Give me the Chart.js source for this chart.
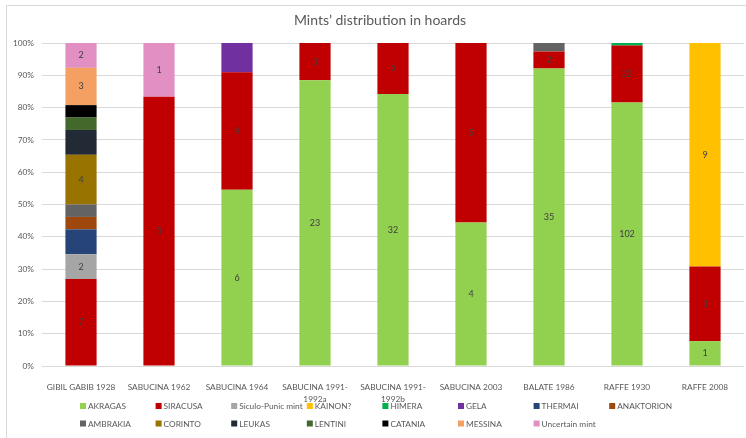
<!DOCTYPE html>
<html>
<head>
<meta charset="utf-8">
<script src="https://cdn.jsdelivr.net/npm/chart.js@4"></script>
<style>
	html, body { margin: 0; padding: 0; background: #ffffff; }
	canvas { display: block; }
</style>
</head>
<body>
<canvas id="hoards" width="746" height="438"></canvas>
<script>
// |-------------|
// |   Données   |
// |-------------|

const hoards = [
	'GIBIL GABIB 1928', 'SABUCINA 1962', 'SABUCINA 1964', ['SABUCINA 1991-', '1992a'],
	['SABUCINA 1991-', '1992b'], 'SABUCINA 2003', 'BALATE 1986', 'RAFFE 1930', 'RAFFE 2008'
]

// nombre de monnaies par atelier et par trésor
const akragas      = [0, 0, 6, 23, 32, 4, 35, 102, 1]
const siracusa     = [7, 5, 4, 3, 6, 5, 2, 22, 3]
const siculo_punic = [2, 0, 0, 0, 0, 0, 0, 0, 0]
const kainon       = [0, 0, 0, 0, 0, 0, 0, 0, 9]
const himera       = [0, 0, 0, 0, 0, 0, 0, 1, 0]
const gela         = [0, 0, 1, 0, 0, 0, 0, 0, 0]
const thermai      = [2, 0, 0, 0, 0, 0, 0, 0, 0]
const anaktorion   = [1, 0, 0, 0, 0, 0, 0, 0, 0]
const ambrakia     = [1, 0, 0, 0, 0, 0, 1, 0, 0]
const corinto      = [4, 0, 0, 0, 0, 0, 0, 0, 0]
const leukas       = [2, 0, 0, 0, 0, 0, 0, 0, 0]
const lentini      = [1, 0, 0, 0, 0, 0, 0, 0, 0]
const catania      = [1, 0, 0, 0, 0, 0, 0, 0, 0]
const messina      = [3, 0, 0, 0, 0, 0, 0, 0, 0]
const uncertain    = [2, 1, 0, 0, 0, 0, 0, 0, 0]

const percent_ticks = [0, 10, 20, 30, 40, 50, 60, 70, 80, 90, 100]

const chart_title = 'Mints\u2019 distribution in hoards'


// |------------|
// |   Styles   |
// |------------|

const font_family = 'Lato, "Open Sans", sans-serif'
const small_size = 8.3
const text_color = '#595959'
const label_color = '#404040'
const grid_color = '#d9d9d9'

const mints = [
	{ name: 'AKRAGAS', counts: akragas, color: '#92d050', labels: true },
	{ name: 'SIRACUSA', counts: siracusa, color: '#c00000', labels: true },
	{ name: 'Siculo-Punic mint', counts: siculo_punic, color: '#a5a5a5', labels: true },
	{ name: 'KAINON?', counts: kainon, color: '#ffc000', labels: true },
	{ name: 'HIMERA', counts: himera, color: '#00b050', labels: false },
	{ name: 'GELA', counts: gela, color: '#7030a0', labels: false },
	{ name: 'THERMAI', counts: thermai, color: '#264478', labels: false },
	{ name: 'ANAKTORION', counts: anaktorion, color: '#9e480e', labels: false },
	{ name: 'AMBRAKIA', counts: ambrakia, color: '#636363', labels: false },
	{ name: 'CORINTO', counts: corinto, color: '#997300', labels: true },
	{ name: 'LEUKAS', counts: leukas, color: '#222a35', labels: false },
	{ name: 'LENTINI', counts: lentini, color: '#43682b', labels: false },
	{ name: 'CATANIA', counts: catania, color: '#000000', labels: false },
	{ name: 'MESSINA', counts: messina, color: '#f4a062', labels: true },
	{ name: 'Uncertain mint', counts: uncertain, color: '#e28fc4', labels: true }
]

// total de monnaies par trésor, pour passer en pourcentage
const totals = hoards.map((h, i) => mints.reduce((sum, m) => sum + m.counts[i], 0))

const datasets = mints.map((m) => ({
	label: m.name,
	data: m.counts.map((c, i) => c / totals[i] * 100),
	counts: m.counts,
	show_labels: m.labels,
	backgroundColor: m.color,
	borderWidth: 0,
	barPercentage: 0.4,
	categoryPercentage: 1
}))


// |-------------|
// |   Plugins   |
// |-------------|

// fond blanc + cadre du graphique
const frame_plugin = {
	id: 'frame',
	beforeDraw(chart) {
		const ctx = chart.ctx
		ctx.save()
		ctx.fillStyle = '#ffffff'
		ctx.fillRect(0, 0, chart.width, chart.height)
		ctx.strokeStyle = grid_color
		ctx.lineWidth = 1
		ctx.strokeRect(6.5, 5.5, chart.width + 20, chart.height + 20)
		ctx.restore()
	}
}

// nombre de monnaies au milieu de chaque segment
const counts_plugin = {
	id: 'counts',
	afterDatasetsDraw(chart) {
		const ctx = chart.ctx
		ctx.save()
		ctx.font = '9px ' + font_family
		ctx.fillStyle = label_color
		ctx.textAlign = 'center'
		ctx.textBaseline = 'middle'
		chart.data.datasets.forEach((ds, d) => {
			if (!ds.show_labels) return
			chart.getDatasetMeta(d).data.forEach((bar, i) => {
				if (!ds.counts[i]) return
				const mid = (bar.y + bar.base) / 2
				ctx.fillText(ds.counts[i], bar.x, mid)
			})
		})
		ctx.restore()
	}
}

// titre et légende en colonnes fixes
const legend_plugin = {
	id: 'grid_legend',
	afterDraw(chart) {
		const ctx = chart.ctx
		ctx.save()
		ctx.fillStyle = text_color
		ctx.textAlign = 'center'
		ctx.textBaseline = 'middle'
		ctx.font = '14px ' + font_family
		ctx.fillText(chart_title, 380, 20)

		ctx.font = small_size + 'px ' + font_family
		ctx.textAlign = 'left'
		chart.data.datasets.forEach((ds, d) => {
			const col = d % 8
			const row = Math.floor(d / 8)
			const x = 83 + col * 75.6
			const y = 406 + row * 17.5
			ctx.fillStyle = ds.backgroundColor
			ctx.fillRect(x - 3, y - 3, 6, 6)
			ctx.fillStyle = text_color
			ctx.fillText(ds.label, x + 5, y + 0.5)
		})
		ctx.restore()
	}
}


// |-------------|
// |   Chart.js  |
// |-------------|

Chart.defaults.font.family = font_family
Chart.defaults.font.size = small_size
Chart.defaults.color = text_color

new Chart(document.getElementById('hoards'), {
	type: 'bar',
	data: { labels: hoards, datasets: datasets },
	options: {
		responsive: false,
		animation: false,
		layout: { padding: { top: 43, right: 2, left: 0, bottom: 0 } },
		plugins: {
			legend: { display: false },
			title: { display: false },
			tooltip: { enabled: false }
		},
		scales: {
			x: {
				stacked: true,
				grid: { display: false },
				border: { display: false },
				ticks: { padding: 7, maxRotation: 0, autoSkip: false, color: text_color, font: { lineHeight: 1.5 } },
				afterFit: (scale) => { scale.height = 72 }
			},
			y: {
				stacked: true,
				min: 0,
				max: 100,
				grid: { color: grid_color, drawTicks: false },
				border: { display: false },
				afterBuildTicks: (scale) => { scale.ticks = percent_ticks.map((v) => ({ value: v })) },
				ticks: { padding: 8, color: text_color, callback: (v) => v + '%' },
				afterFit: (scale) => { scale.width = 42 }
			}
		}
	},
	plugins: [frame_plugin, counts_plugin, legend_plugin]
})
</script>
</body>
</html>
